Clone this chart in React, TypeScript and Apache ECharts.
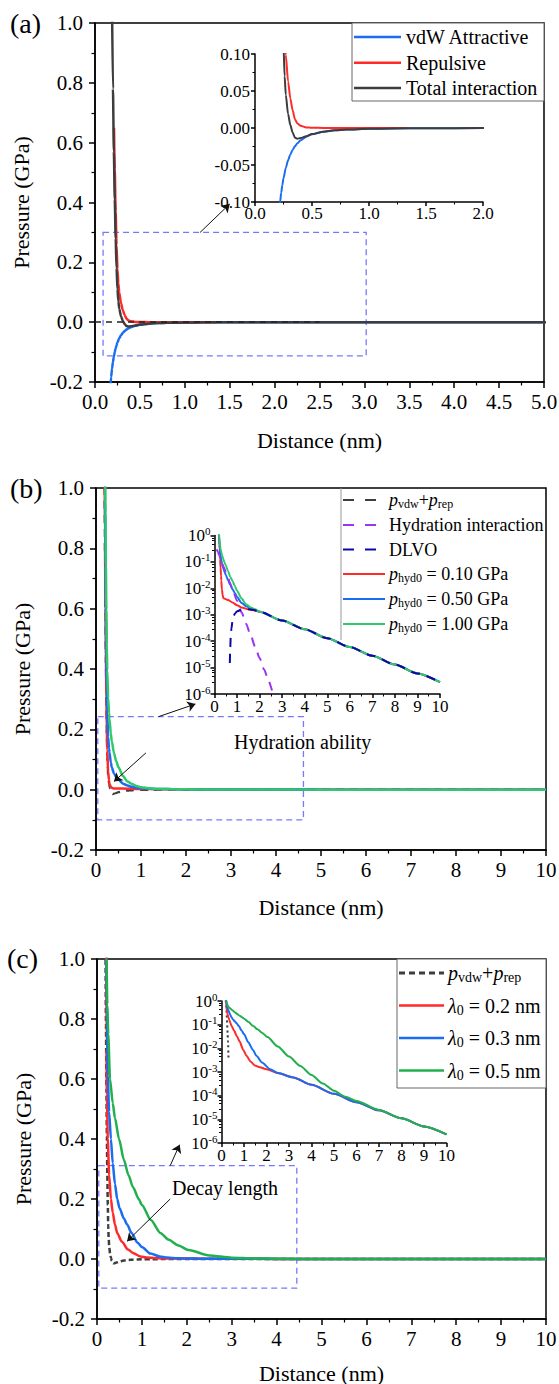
import React, { useEffect, useRef } from 'react';
import * as echarts from 'echarts';

type Pt = [number, number];

const FONT = "'Liberation Serif', 'Times New Roman', Times, serif";

// ---------- (a) van der Waals / repulsive / total pressure vs distance (nm, GPa)
const vdwAttractive: Pt[] = [
  [0.17, -0.217], [0.18, -0.183], [0.19, -0.155], [0.2, -0.133], [0.21, -0.115], [0.22, -0.1],
  [0.23, -0.0875], [0.24, -0.077], [0.25, -0.068], [0.27, -0.054], [0.29, -0.0437], [0.31, -0.0357],
  [0.33, -0.0296], [0.35, -0.0248], [0.37, -0.021], [0.4, -0.0166], [0.45, -0.0117], [0.5, -0.0085],
  [0.6, -0.0049], [0.7, -0.0031], [0.8, -0.0021], [1.0, -0.0011], [1.2, -0.0006], [1.5, -0.0003],
  [2.0, -0.0001], [3.0, 0], [5.0, 0],
];
const repulsive: Pt[] = [
  [0.212, 0.65], [0.22, 0.51], [0.23, 0.37], [0.24, 0.257], [0.25, 0.178],
  [0.26, 0.13], [0.27, 0.099], [0.29, 0.063], [0.31, 0.04], [0.33, 0.024], [0.35, 0.012],
  [0.37, 0.0065], [0.4, 0.003], [0.45, 0.0008], [0.5, 0.0003], [0.6, 0.0001], [0.8, 0], [1.35, 0],
];
const totalInteraction: Pt[] = [
  [0.19, 1.05], [0.2, 0.78], [0.21, 0.57], [0.22, 0.41], [0.23, 0.28], [0.24, 0.18], [0.25, 0.11],
  [0.26, 0.07], [0.27, 0.045], [0.29, 0.019], [0.31, 0.004], [0.33, -0.006], [0.35, -0.013],
  [0.37, -0.0145], [0.4, -0.0136], [0.45, -0.011], [0.5, -0.0082], [0.6, -0.0049], [0.7, -0.0032],
  [0.8, -0.0021], [1.0, -0.0011], [1.2, -0.0006], [1.5, -0.0003], [2.0, -0.0001], [3.0, 0],
  [5.0, 0], [10, 0],
];

// ---------- (b) hydration strength p_hyd0
const hydrationInteraction: Pt[] = [
  [0.1, 0.303], [0.15, 0.236], [0.2, 0.184], [0.3, 0.112], [0.4, 0.0677], [0.5, 0.041],
  [0.6, 0.0249], [0.7, 0.0151], [0.8, 0.0092], [1.0, 0.00337], [1.2, 0.00124], [1.4, 0.00046],
  [1.6, 0.00017], [1.8, 0.000062], [2.0, 0.000023], [2.2, 0.0000084], [2.4, 0.0000031],
  [2.6, 0.00000114], [2.7, 0.0000007],
];
const dlvo: Pt[] = [
  [0.68, 1.5e-5], [0.7, 6e-5], [0.72, 1.5e-4], [0.75, 3e-4], [0.8, 6e-4], [0.85, 9e-4],
  [0.9, 1.1e-3], [1.0, 1.35e-3], [1.2, 1.55e-3], [1.5, 1.6e-3], [1.7, 1.55e-3], [2.0, 1.3e-3],
  [3, 6.0e-4], [4, 2.8e-4], [5, 1.3e-4], [6, 6.0e-5], [7, 2.8e-5], [8, 1.3e-5], [9, 6.0e-6],
  [10, 2.8e-6],
];
const phyd010: Pt[] = [
  [0.19, 1.09], [0.2, 0.82], [0.21, 0.6], [0.22, 0.44], [0.23, 0.31], [0.24, 0.2], [0.25, 0.13],
  [0.27, 0.06], [0.29, 0.03], [0.3, 0.02], [0.33, 0.009], [0.36, 0.0055], [0.4, 0.0042],
  [0.5, 0.0039], [0.6, 0.0036], [0.8, 0.0029], [1.0, 0.0023], [1.2, 0.0019], [1.5, 0.0016],
  [1.7, 0.0015], [2.0, 0.0013], [3, 6.0e-4], [4, 2.8e-4], [5, 1.3e-4], [6, 6.0e-5], [7, 2.8e-5],
  [8, 1.3e-5], [9, 6.0e-6], [10, 2.8e-6],
];
const phyd050: Pt[] = [
  [0.19, 1.24], [0.2, 0.96], [0.21, 0.745], [0.22, 0.576], [0.23, 0.437], [0.24, 0.33],
  [0.25, 0.253], [0.27, 0.175], [0.29, 0.136], [0.3, 0.123], [0.33, 0.09], [0.35, 0.074],
  [0.4, 0.054], [0.45, 0.041], [0.5, 0.033], [0.6, 0.02], [0.7, 0.0135], [0.8, 0.0093],
  [0.9, 0.0067], [1.0, 0.0047], [1.2, 0.0028], [1.4, 0.0021], [1.6, 0.0018], [1.8, 0.0015],
  [2.0, 0.0013], [3, 6.0e-4], [4, 2.8e-4], [5, 1.3e-4], [6, 6.0e-5], [7, 2.8e-5], [8, 1.3e-5],
  [9, 6.0e-6], [10, 2.8e-6],
];
const phyd100: Pt[] = [
  [0.19, 1.44], [0.2, 1.15], [0.21, 0.92], [0.22, 0.743], [0.23, 0.597], [0.24, 0.481],
  [0.25, 0.397], [0.27, 0.304], [0.29, 0.254], [0.3, 0.234], [0.33, 0.186], [0.35, 0.161],
  [0.4, 0.121], [0.45, 0.094], [0.5, 0.074], [0.6, 0.045], [0.7, 0.027], [0.8, 0.0189],
  [0.9, 0.0122], [1.0, 0.0081], [1.2, 0.0041], [1.4, 0.0025], [1.6, 0.0019], [1.8, 0.0016],
  [2.0, 0.0013], [3, 6.0e-4], [4, 2.8e-4], [5, 1.3e-4], [6, 6.0e-5], [7, 2.8e-5], [8, 1.3e-5],
  [9, 6.0e-6], [10, 2.8e-6],
];

// ---------- (c) decay length lambda0
const lambda02: Pt[] = [
  [0.2, 1.2], [0.21, 0.7], [0.22, 0.55], [0.24, 0.4], [0.27, 0.28], [0.31, 0.2], [0.35, 0.155],
  [0.4, 0.115], [0.45, 0.087], [0.55, 0.058], [0.69, 0.032], [0.8, 0.02], [0.97, 0.0085],
  [1.1, 0.005], [1.3, 0.0027], [1.48, 0.0019], [1.7, 0.0016], [2.0, 0.0013], [2.5, 9e-4],
  [3.19, 5.9e-4], [4, 2.9e-4], [5, 1.2e-4], [6, 5.3e-5], [7, 2.4e-5], [8, 1.1e-5], [9, 5e-6],
  [10, 2.3e-6],
];
const lambda03: Pt[] = [
  [0.2, 1.3], [0.21, 1.0], [0.22, 0.85], [0.24, 0.61], [0.27, 0.49], [0.31, 0.4], [0.35, 0.32],
  [0.4, 0.25], [0.45, 0.2], [0.5, 0.17], [0.6, 0.135], [0.67, 0.115], [0.77, 0.087], [0.9, 0.055],
  [1.0, 0.04], [1.19, 0.018], [1.4, 0.0085], [1.56, 0.0047], [1.8, 0.0025], [2.16, 0.0013],
  [2.5, 9e-4], [3.19, 5.9e-4], [4, 2.9e-4], [5, 1.2e-4], [6, 5.3e-5], [7, 2.4e-5], [8, 1.1e-5],
  [9, 5e-6], [10, 2.3e-6],
];
const lambda05: Pt[] = [
  [0.2, 1.25], [0.21, 1.0], [0.23, 0.85], [0.25, 0.75], [0.29, 0.6], [0.35, 0.52], [0.4, 0.47],
  [0.49, 0.4], [0.6, 0.33], [0.7, 0.28], [0.8, 0.24], [0.93, 0.2], [1.0, 0.18], [1.2, 0.13],
  [1.41, 0.087], [1.6, 0.064], [1.8, 0.046], [2.04, 0.03], [2.5, 0.012], [3.0, 0.0045],
  [3.5, 0.0018], [4.0, 7.5e-4], [4.5, 3.3e-4], [5.0, 1.6e-4], [5.5, 9e-5], [6, 6e-5], [7, 2.5e-5],
  [8, 1.1e-5], [9, 5e-6], [10, 2.3e-6],
];

const C = {
  blue: '#1a6cf0',
  red: '#ff2a2a',
  black: '#3d3d3d',
  greenB: '#2fc86c',
  greenC: '#22b04f',
  purple: '#9b35f5',
  navy: '#0a0aa6',
  box: '#7878ff',
};

const positive = (d: Pt[]) => d.filter((p) => p[1] > 0);

const axisLineStyle = { color: '#000', width: 1.5 };

function xAxisMain(gridIndex: number, max: number, interval: number, digits: number, nameGap: number) {
  return {
    gridIndex, type: 'value', min: 0, max, interval,
    name: 'Distance (nm)', nameLocation: 'middle', nameGap,
    nameTextStyle: { fontSize: 22, fontFamily: FONT, color: '#000' },
    axisLine: { show: true, onZero: false, lineStyle: axisLineStyle },
    axisTick: { show: true, inside: false, length: 6, lineStyle: axisLineStyle },
    minorTick: { show: true, splitNumber: 2, length: 3.5, lineStyle: { color: '#000', width: 1.2 } },
    axisLabel: {
      show: true, margin: 9, fontSize: 21, fontFamily: FONT, color: '#000',
      showMinLabel: true, showMaxLabel: true,
      formatter: (v: number) => v.toFixed(digits),
    },
    splitLine: { show: false },
    minorSplitLine: { show: false },
  };
}

function yAxisMain(gridIndex: number) {
  return {
    gridIndex, type: 'value', min: -0.2, max: 1.0, interval: 0.2,
    name: 'Pressure (GPa)', nameLocation: 'middle', nameGap: 63,
    nameTextStyle: { fontSize: 22, fontFamily: FONT, color: '#000' },
    axisLine: { show: true, onZero: false, lineStyle: axisLineStyle },
    axisTick: { show: true, inside: false, length: 6, lineStyle: axisLineStyle },
    minorTick: { show: true, splitNumber: 2, length: 3.5, lineStyle: { color: '#000', width: 1.2 } },
    axisLabel: {
      show: true, margin: 12, fontSize: 21, fontFamily: FONT, color: '#000',
      showMinLabel: true, showMaxLabel: true,
      formatter: (v: number) => v.toFixed(1),
    },
    splitLine: { show: false },
    minorSplitLine: { show: false },
  };
}

function insetLinear(gridIndex: number, min: number, max: number, interval: number, digits: number, margin: number) {
  return {
    gridIndex, type: 'value', min, max, interval,
    axisLine: { show: true, onZero: false, lineStyle: axisLineStyle },
    axisTick: { show: true, inside: false, length: 4, lineStyle: axisLineStyle },
    minorTick: { show: true, splitNumber: 2, length: 2.5, lineStyle: { color: '#000', width: 1 } },
    axisLabel: {
      show: true, margin, fontSize: 17, fontFamily: FONT, color: '#000',
      showMinLabel: true, showMaxLabel: true,
      formatter: (v: number) => v.toFixed(digits),
    },
    splitLine: { show: false },
    minorSplitLine: { show: false },
  };
}

function insetLog(gridIndex: number) {
  return {
    gridIndex, type: 'log', logBase: 10, min: 1e-6, max: 1, splitNumber: 6,
    axisLine: { show: true, onZero: false, lineStyle: axisLineStyle },
    axisTick: { show: true, inside: false, length: 4, lineStyle: axisLineStyle },
    minorTick: { show: true, splitNumber: 5, length: 2.5, lineStyle: { color: '#000', width: 1 } },
    axisLabel: {
      show: true, margin: 4, color: '#000', fontFamily: FONT,
      showMinLabel: true, showMaxLabel: true,
      formatter: (v: number) => `{b|10}{e|${Math.round(Math.log10(v))}}`,
      rich: {
        b: { fontSize: 17, fontFamily: FONT, color: '#000' },
        e: { fontSize: 11, fontFamily: FONT, color: '#000', padding: [0, 0, 9, 0] },
      },
    },
    splitLine: { show: false },
    minorSplitLine: { show: false },
  };
}

function line(axis: number, data: Pt[], color: string, width: number, dash?: number[], extra: object = {}) {
  return {
    type: 'line', xAxisIndex: axis, yAxisIndex: axis, data,
    symbol: 'none', showSymbol: false, smooth: 0.25, smoothMonotone: 'x',
    clip: true, silent: true, animation: false,
    lineStyle: { color, width, type: dash ?? 'solid', cap: 'butt', join: 'round' },
    ...extra,
  };
}

function zoomBox(x0: number, y0: number, x1: number, y1: number) {
  return {
    silent: true,
    itemStyle: { color: 'rgba(0,0,0,0)', borderColor: C.box, borderWidth: 1.3, borderType: [6, 4] },
    label: { show: false },
    data: [[{ coord: [x0, y0] }, { coord: [x1, y1] }]],
  };
}

function arrows(list: [Pt, Pt][]) {
  return {
    silent: true, symbol: ['none', 'arrow'], symbolSize: 8,
    label: { show: false },
    lineStyle: { color: '#111', width: 1, type: 'solid' },
    data: list.map(([a, b]) => [{ coord: a }, { coord: b }]),
  };
}

const sub = (size: number) => ({ fontSize: size, fontFamily: FONT, fill: '#000', padding: [size * 0.7, 0, 0, 0] });
const ital = (size: number) => ({ fontSize: size, fontFamily: FONT, fill: '#000', fontStyle: 'italic' });
const norm = (size: number) => ({ fontSize: size, fontFamily: FONT, fill: '#000' });

function legendText(x: number, y: number, text: string, size: number) {
  return {
    type: 'text', x, y, z: 110,
    style: {
      text, fontSize: size, fontFamily: FONT, fill: '#000', verticalAlign: 'middle', align: 'left',
      rich: { i: ital(size), s: sub(Math.round(size * 0.68)), n: norm(size) },
    },
  };
}

function legendLine(x1: number, x2: number, y: number, color: string, width: number, dash?: number[]) {
  return {
    type: 'line', z: 110,
    shape: { x1, y1: y, x2, y2: y },
    style: { stroke: color, lineWidth: width, lineDash: dash ?? null },
  };
}

function plainText(x: number, y: number, text: string, size: number) {
  return {
    type: 'text', x, y, z: 110,
    style: { text, fontSize: size, fontFamily: FONT, fill: '#000', verticalAlign: 'middle', align: 'left' },
  };
}

function buildOption() {
  const grids = [
    { left: 95, top: 23, width: 449, height: 359, show: true },
    { left: 255, top: 54, width: 228, height: 148, show: false },
    { left: 96, top: 488, width: 450, height: 362, show: true },
    { left: 214.5, top: 535.5, width: 225.5, height: 158.5, show: false },
    { left: 97, top: 959, width: 449, height: 360, show: true },
    { left: 221.5, top: 1001, width: 225, height: 142, show: false },
  ].map((g) => ({
    ...g, containLabel: false, outerBoundsMode: 'none',
    borderColor: '#000', borderWidth: 1.5, backgroundColor: 'transparent',
  }));

  const xAxis = [
    xAxisMain(0, 5, 0.5, 1, 47),
    insetLinear(1, 0, 2, 0.5, 1, 3),
    xAxisMain(2, 10, 1, 0, 46),
    insetLinear(3, 0, 10, 1, 0, 4),
    xAxisMain(4, 10, 1, 0, 43),
    insetLinear(5, 0, 10, 1, 0, 4),
  ];
  const yAxis = [
    yAxisMain(0),
    insetLinear(1, -0.1, 0.1, 0.05, 2, 5),
    yAxisMain(2),
    insetLog(3),
    yAxisMain(4),
    insetLog(5),
  ];

  const series = [
    // (a) main
    line(0, vdwAttractive, C.blue, 2.5, undefined, {
      markArea: zoomBox(0.09, 0.3, 3.02, -0.113),
      markLine: arrows([[[1.17, 0.3], [1.5, 0.395]]]),
    }),
    line(0, repulsive, C.red, 2.5),
    line(0, totalInteraction, C.black, 2.5, undefined, {
      markLine: {
        silent: true, symbol: ['none', 'none'], label: { show: false },
        lineStyle: { color: '#222', width: 1.5, type: [6, 5] },
        data: [[{ coord: [0, 0] }, { coord: [2.5, 0] }]],
      },
    }),
    // (a) inset
    line(1, vdwAttractive, C.blue, 2),
    line(1, repulsive, C.red, 2),
    line(1, totalInteraction, C.black, 2),
    // (b) main
    line(2, totalInteraction, C.black, 2.2, [8, 6], {
      markArea: zoomBox(0.04, 0.242, 4.61, -0.1),
      markLine: arrows([
        [[1.39, 0.242], [2.21, 0.284]],
        [[1.11, 0.122], [0.4, 0.027]],
      ]),
    }),
    line(2, phyd010, C.red, 2.5),
    line(2, phyd050, C.blue, 2.5),
    line(2, phyd100, C.greenB, 2.5),
    // (b) inset
    line(3, positive(phyd010), C.red, 2),
    line(3, positive(phyd050), C.blue, 2),
    line(3, positive(phyd100), C.greenB, 2),
    line(3, hydrationInteraction, C.purple, 2, [9, 7]),
    line(3, dlvo, C.navy, 2, [9, 7]),
    // (c) main
    line(4, totalInteraction, C.black, 2.5, [5, 3], {
      markArea: zoomBox(0.04, 0.311, 4.45, -0.097),
      markLine: arrows([
        [[1.63, 0.311], [1.84, 0.381]],
        [[1.63, 0.2], [0.67, 0.059]],
      ]),
    }),
    line(4, lambda02, C.red, 2.5),
    line(4, lambda03, C.blue, 2.5),
    line(4, lambda05, C.greenC, 2.5),
    // (c) inset
    line(5, positive(totalInteraction), C.black, 2, [2, 3]),
    line(5, positive(lambda02), C.red, 2),
    line(5, positive(lambda03), C.blue, 2),
    line(5, positive(lambda05), C.greenC, 2),
  ];

  const graphic = [
    // panel tags
    plainText(10, 23, '(a)', 28),
    plainText(10, 488, '(b)', 28),
    plainText(7, 958, '(c)', 28),

    // legend (a)
    { type: 'rect', z: 105, shape: { x: 352, y: 23, width: 192, height: 78 }, style: { fill: '#fff', stroke: '#666', lineWidth: 1 } },
    legendLine(354, 401, 37, C.blue, 2.5),
    legendLine(354, 401, 62.7, C.red, 2.5),
    legendLine(354, 401, 88, C.black, 2.5),
    legendText(406, 37, 'vdW Attractive', 20),
    legendText(406, 62.7, 'Repulsive', 20),
    legendText(406, 88, 'Total interaction', 20),

    // legend (b)
    { type: 'rect', z: 105, shape: { x: 341, y: 489, width: 204, height: 151 }, style: { fill: '#fff', stroke: null } },
    { type: 'line', z: 106, shape: { x1: 341, y1: 488, x2: 341, y2: 640 }, style: { stroke: '#999', lineWidth: 1 } },
    legendLine(343, 376, 500, C.black, 2.2, [11, 11]),
    legendLine(343, 376, 525, C.purple, 2.2, [11, 11]),
    legendLine(343, 376, 549.5, C.navy, 2.2, [11, 11]),
    legendLine(343, 385, 574, C.red, 2.2),
    legendLine(343, 385, 599, C.blue, 2.2),
    legendLine(343, 385, 624, C.greenB, 2.2),
    legendText(389, 500, '{i|p}{s|vdw}{n|+}{i|p}{s|rep}', 18),
    legendText(389, 525, 'Hydration interaction', 18),
    legendText(389, 549.5, 'DLVO', 18),
    legendText(389, 574, '{i|p}{s|hyd0}{n| = 0.10 GPa}', 18),
    legendText(389, 599, '{i|p}{s|hyd0}{n| = 0.50 GPa}', 18),
    legendText(389, 624, '{i|p}{s|hyd0}{n| = 1.00 GPa}', 18),

    // legend (c)
    { type: 'rect', z: 105, shape: { x: 397, y: 959, width: 149, height: 129 }, style: { fill: '#fff', stroke: '#666', lineWidth: 1 } },
    legendLine(399, 444, 973, C.black, 3, [6, 4]),
    legendLine(399, 444, 1005.5, C.red, 2.5),
    legendLine(399, 444, 1038, C.blue, 2.5),
    legendLine(399, 444, 1070.5, C.greenC, 2.5),
    legendText(448, 973, '{i|p}{s|vdw}{n|+}{i|p}{s|rep}', 20),
    legendText(448, 1005.5, '{i|λ}{s|0}{n| = 0.2 nm}', 20),
    legendText(448, 1038, '{i|λ}{s|0}{n| = 0.3 nm}', 20),
    legendText(448, 1070.5, '{i|λ}{s|0}{n| = 0.5 nm}', 20),

    // annotations
    plainText(234, 742, 'Hydration ability', 20),
    plainText(172, 1188, 'Decay length', 20),
  ];

  return {
    animation: false,
    backgroundColor: '#fff',
    textStyle: { fontFamily: FONT, color: '#000' },
    grid: grids, xAxis, yAxis, series, graphic,
  };
}

export default function App() {
  const ref = useRef<HTMLDivElement>(null);
  useEffect(() => {
    if (!ref.current) return;
    const chart = echarts.init(ref.current, null, { renderer: 'svg' });
    chart.setOption(buildOption() as any);
    return () => chart.dispose();
  }, []);
  return (
    <div
      ref={ref}
      style={{ position: 'absolute', left: 0, top: 0, width: 559, height: 1384, background: '#fff' }}
    />
  );
}
